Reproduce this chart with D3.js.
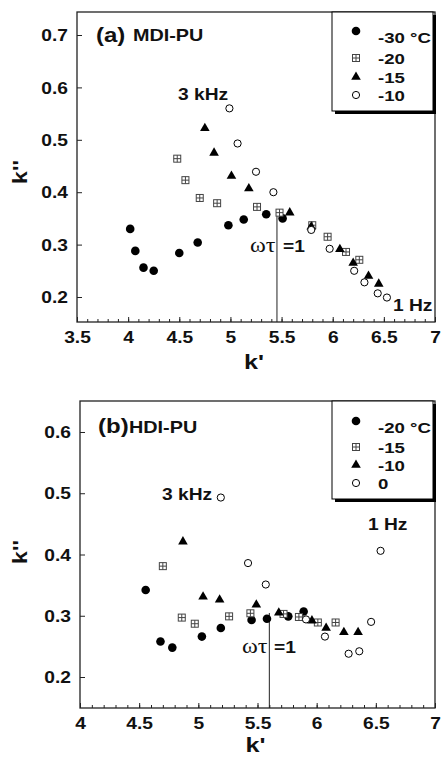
<!DOCTYPE html>
<meta charset="utf-8">
<style>
body { margin: 0; background: #fff; }
text { font-family: "Liberation Sans", Arial, sans-serif; font-weight: bold; fill: #111; }
.serif { font-family: "Liberation Serif", "Times New Roman", serif; font-weight: normal; }
</style>
<body>
<script src="https://d3js.org/d3.v7.min.js"></script>
<script>

// ---- panel (a) MDI-PU : k' / k'' per temperature ----
var aTemps = ["-30 °C", "-20", "-15", "-10"];
var aM30k  = [4.02, 4.07, 4.15, 4.25, 4.50, 4.68, 4.98, 5.13, 5.35, 5.51];
var aM30kk = [0.330, 0.288, 0.256, 0.250, 0.284, 0.304, 0.337, 0.348, 0.358, 0.350];
var aM20k  = [4.48, 4.56, 4.70, 4.87, 5.26, 5.48, 5.80, 5.95, 6.13, 6.26];
var aM20kk = [0.464, 0.423, 0.389, 0.379, 0.372, 0.361, 0.337, 0.315, 0.286, 0.271];
var aM15k  = [4.75, 4.84, 5.01, 5.18, 5.58, 5.79, 6.07, 6.20, 6.35, 6.45];
var aM15kk = [0.522, 0.475, 0.431, 0.407, 0.361, 0.334, 0.291, 0.265, 0.240, 0.225];
var aM10k  = [4.99, 5.07, 5.25, 5.42, 5.79, 5.97, 6.21, 6.31, 6.44, 6.53];
var aM10kk = [0.560, 0.493, 0.439, 0.400, 0.328, 0.292, 0.250, 0.228, 0.207, 0.199];
var aXTicks = [3.5, 4, 4.5, 5, 5.5, 6, 6.5, 7];
var aYTicks = [0.2, 0.3, 0.4, 0.5, 0.6, 0.7];
var aWtau = [5.455, 0.355];   // omega tau = 1 marker (k', top k'')

// ---- panel (b) HDI-PU ----
var bTemps = ["-20 °C", "-15", "-10", "0"];
var bM20k  = [4.555, 4.68, 4.78, 5.03, 5.19, 5.45, 5.58, 5.76, 5.89];
var bM20kk = [0.342, 0.258, 0.248, 0.266, 0.280, 0.293, 0.295, 0.299, 0.307];
var bM15k  = [4.70, 4.86, 4.97, 5.26, 5.44, 5.72, 5.85, 6.01, 6.16];
var bM15kk = [0.381, 0.297, 0.287, 0.299, 0.304, 0.303, 0.298, 0.289, 0.289];
var bM10k  = [4.87, 5.04, 5.18, 5.49, 5.68, 5.96, 6.08, 6.23, 6.35];
var bM10kk = [0.421, 0.331, 0.326, 0.318, 0.305, 0.292, 0.280, 0.273, 0.273];
var b0k    = [5.19, 5.42, 5.57, 5.91, 6.07, 6.27, 6.36, 6.46, 6.54];
var b0kk   = [0.493, 0.386, 0.351, 0.294, 0.266, 0.238, 0.242, 0.290, 0.406];
var bXTicks = [4, 4.5, 5, 5.5, 6, 6.5, 7];
var bYTicks = [0.2, 0.3, 0.4, 0.5, 0.6];
var bWtau = [5.60, 0.3045];

var markers = ["dot", "box", "tri", "ring"];
var SX = 1.2;   // the original figure is stretched horizontally

var svg = d3.select("body").append("svg")
    .attr("width", 441)
    .attr("height", 758);

// text helper: stretched horizontally like the original
function label(g, x, y, str, size, anchor, cls) {
  return g.append("text")
    .attr("class", cls || null)
    .attr("transform", "translate(" + x + "," + y + ") scale(" + SX + ",1)")
    .attr("text-anchor", anchor || "start")
    .style("font-size", size + "px")
    .text(str);
}

function marker(g, type, cx, cy) {
  if (type == "dot") {
    g.append("circle").attr("cx", cx).attr("cy", cy).attr("r", 4.3).attr("fill", "#000");
  } else if (type == "ring") {
    g.append("circle").attr("cx", cx).attr("cy", cy).attr("r", 3.6)
      .attr("fill", "#fff").attr("stroke", "#000").attr("stroke-width", 1);
  } else if (type == "tri") {
    g.append("path").attr("d", d3.symbol(d3.symbolTriangle).size(40)())
      .attr("transform", "translate(" + cx + "," + cy + ")").attr("fill", "#000");
  } else {
    var s = 3.5;
    g.append("rect").attr("x", cx - s).attr("y", cy - s).attr("width", 2 * s).attr("height", 2 * s)
      .attr("fill", "#fff").attr("stroke", "#444").attr("stroke-width", 1);
    g.append("path").attr("d", "M" + (cx - s) + "," + cy + "H" + (cx + s) + "M" + cx + "," + (cy - s) + "V" + (cy + s))
      .attr("stroke", "#444").attr("stroke-width", 1);
  }
}

function drawPanel(p) {
  var g = svg.append("g");
  var x = d3.scaleLinear().domain(p.xDomain).range([p.left, p.right]);
  var y = d3.scaleLinear().domain(p.yDomain).range([p.bottom, p.top]);

  // frame
  g.append("rect")
    .attr("x", p.left).attr("y", p.top)
    .attr("width", p.right - p.left).attr("height", p.bottom - p.top)
    .attr("fill", "none").attr("stroke", "#222").attr("stroke-width", 1.3);

  // minor x ticks every 0.1
  var minor = d3.range(Math.round(p.xDomain[0] * 10), Math.round(p.xDomain[1] * 10) + 1).map(function(d) { return d / 10; });
  g.append("g")
      .attr("transform", "translate(0," + p.bottom + ")")
      .call(d3.axisBottom(x).tickValues(minor).tickSize(-3).tickFormat(""))
      .call(function(s) { s.select(".domain").remove(); });

  // major x ticks
  var xa = g.append("g")
      .attr("transform", "translate(0," + p.bottom + ")")
      .call(d3.axisBottom(x).tickValues(p.xTicks).tickSize(-5).tickFormat(d3.format("")));
  xa.select(".domain").remove();
  xa.selectAll("text")
      .attr("y", null).attr("dy", null)
      .attr("transform", "translate(0,21) scale(" + SX + ",1)")
      .style("font-size", "16px").attr("fill", "#111");

  // y ticks
  var ya = g.append("g")
      .attr("transform", "translate(" + p.left + ",0)")
      .call(d3.axisLeft(y).tickValues(p.yTicks).tickSize(-5).tickFormat(d3.format(".1f")));
  ya.select(".domain").remove();
  ya.selectAll("text")
      .attr("x", null).attr("dy", "0.35em")
      .attr("transform", "translate(-9,0) scale(" + SX + ",1)")
      .style("font-size", "16px").attr("fill", "#111");
  g.selectAll(".tick line").attr("stroke", "#222");

  // omega tau = 1 line
  g.append("line")
    .attr("x1", x(p.wtau[0])).attr("x2", x(p.wtau[0]))
    .attr("y1", p.bottom).attr("y2", y(p.wtau[1]))
    .attr("stroke", "#222").attr("stroke-width", 1);

  // data points
  p.series.forEach(function(s, i) {
    s.k.forEach(function(v, j) {
      marker(g, markers[i], x(v), y(s.kk[j]));
    });
  });

  // legend with drop shadow
  var L = p.legend;
  g.append("rect").attr("x", L.x + 3).attr("y", L.y + 3).attr("width", L.w).attr("height", L.h).attr("fill", "#000");
  g.append("rect").attr("x", L.x).attr("y", L.y).attr("width", L.w).attr("height", L.h)
    .attr("fill", "#fff").attr("stroke", "#000").attr("stroke-width", 1);
  p.temps.forEach(function(t, i) {
    var ry = L.rows[i];
    marker(g, markers[i], L.x + 24, i == 0 ? ry - 6 : ry);
    label(g, L.x + 46, ry + 5.5, t, 15.5);
  });

  // annotations
  label(g, p.tag[0], p.tag[1], p.tag[2], 20);
  label(g, p.name[0], p.name[1], p.name[2], 16.5);
  label(g, p.khz[0], p.khz[1], "3 kHz", 16);
  label(g, p.hz[0], p.hz[1], "1 Hz", 16);
  label(g, p.wt[0], p.wt[1], "ωτ", 20, "start", "serif");
  label(g, p.wt[2], p.wt[1], "=1", 16);

  // axis titles
  label(g, (p.left + p.right) / 2 - 2, p.xTitleY, "k'", 21, "middle");
  g.append("text")
    .attr("transform", "translate(" + 27 + "," + p.yTitleY + ") rotate(-90) scale(1.1,1)")
    .attr("text-anchor", "middle")
    .style("font-size", "21px")
    .text("k''");
}

drawPanel({
  left: 77, right: 435, top: 12, bottom: 322,
  xDomain: [3.5, 7], yDomain: [0.1523, 0.7439],
  xTicks: aXTicks, yTicks: aYTicks, wtau: aWtau, temps: aTemps,
  series: [{k: aM30k, kk: aM30kk}, {k: aM20k, kk: aM20kk}, {k: aM15k, kk: aM15kk}, {k: aM10k, kk: aM10kk}],
  legend: {x: 332, y: 12, w: 101, h: 99, rows: [37, 58, 77, 95]},
  tag: [96, 42, "(a)"], name: [133, 41, "MDI-PU"],
  khz: [178, 100], hz: [393, 311], wt: [250, 252, 283],
  xTitleY: 369, yTitleY: 172
});

drawPanel({
  left: 80, right: 435, top: 401, bottom: 708,
  xDomain: [4, 7], yDomain: [0.1494, 0.6506],
  xTicks: bXTicks, yTicks: bYTicks, wtau: bWtau, temps: bTemps,
  series: [{k: bM20k, kk: bM20kk}, {k: bM15k, kk: bM15kk}, {k: bM10k, kk: bM10kk}, {k: b0k, kk: b0kk}],
  legend: {x: 332, y: 401, w: 101, h: 98, rows: [427, 447, 465, 483]},
  tag: [98, 433, "(b)"], name: [129, 433, "HDI-PU"],
  khz: [162, 500], hz: [368, 530], wt: [242, 653, 274],
  xTitleY: 752, yTitleY: 552
});

</script>
</body>
